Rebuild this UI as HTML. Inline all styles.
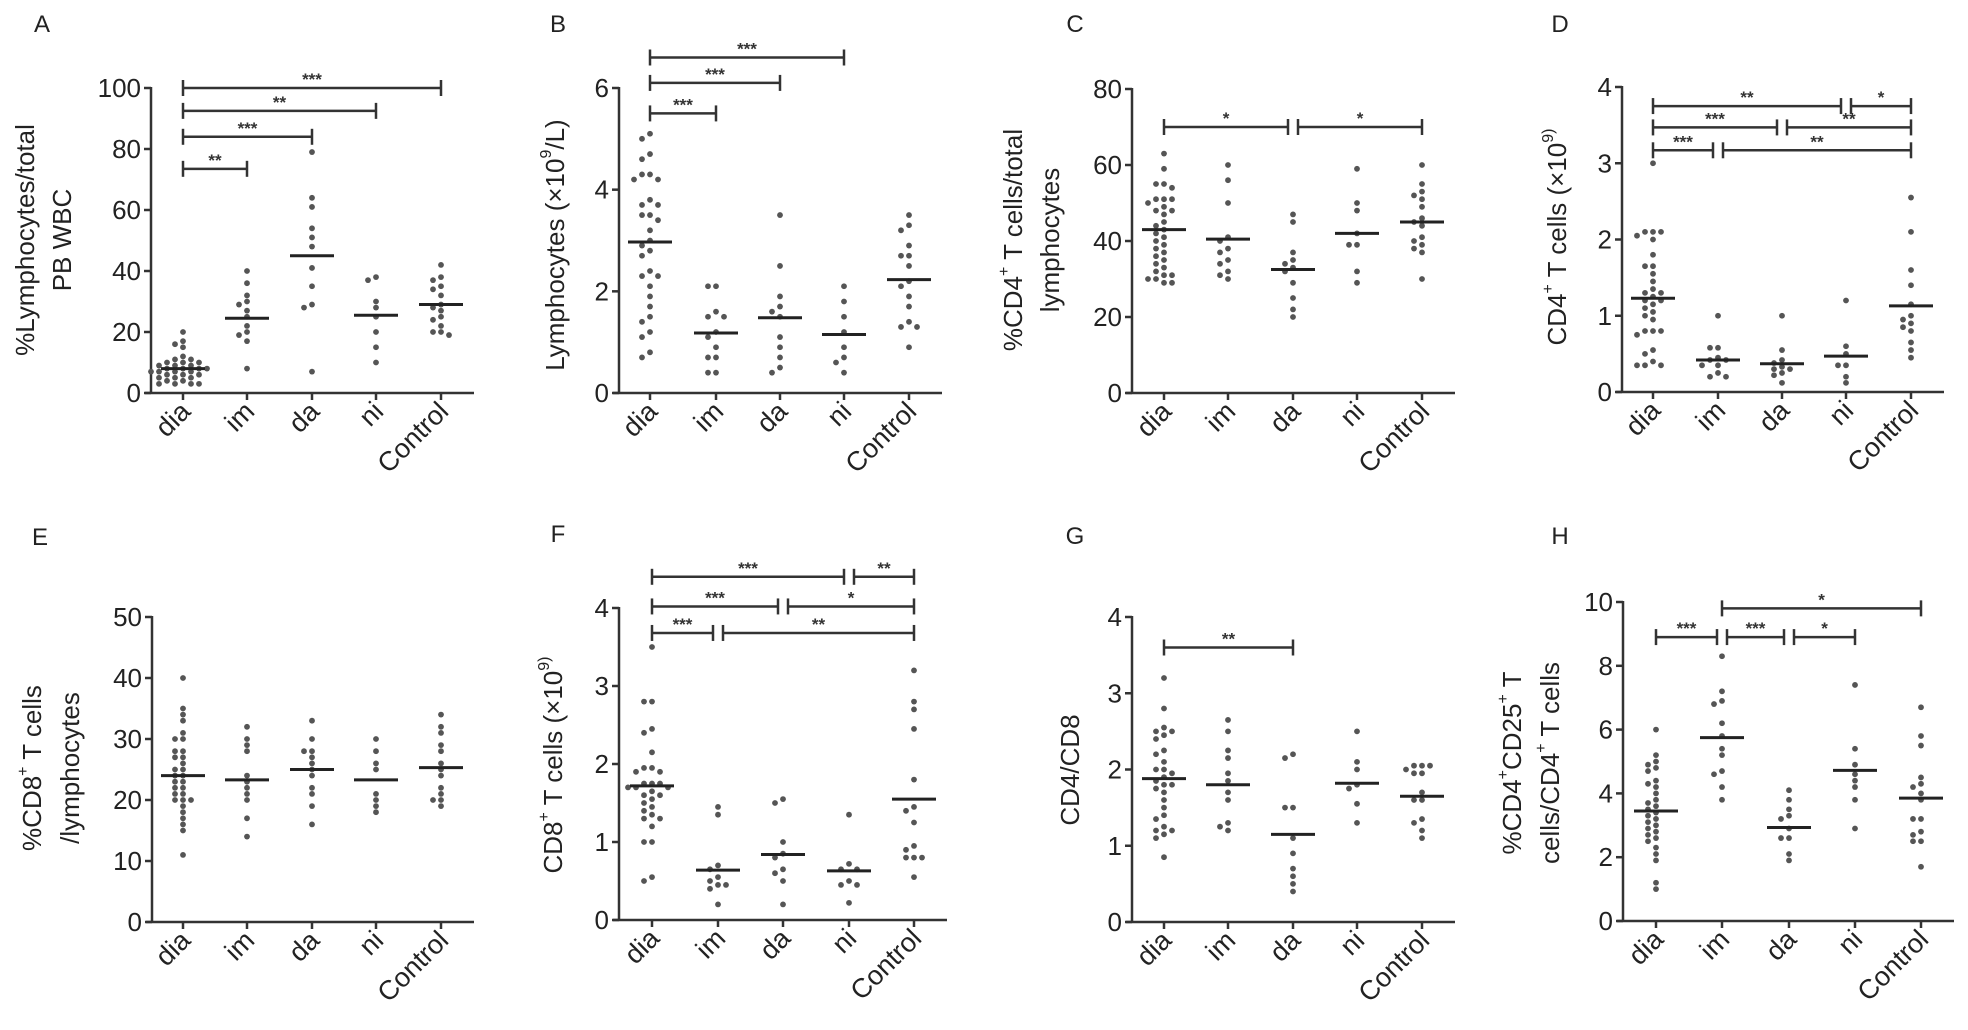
<!DOCTYPE html>
<html><head><meta charset="utf-8"><style>
body{margin:0;background:#fff}
svg{display:block;font-family:"Liberation Sans",Arial,sans-serif}
</style></head><body>
<svg id="fig" width="1968" height="1030" viewBox="0 0 1968 1030" xmlns="http://www.w3.org/2000/svg"></svg>
<script>
const categories = ["dia","im","da","ni","Control"];

const aValues = [[20,17,16,15,12,11,11,10,10,10,9,9,9,8,8,8,8,7,7,7,7,6,6,6,5,5,5,4,4,3,3,3,3],[40,36,32,30,29,27,25,22,20,19,17,8],[79,64,61,54,51,48,41,35,29,28,7],[38,37,30,28,25,20,15,10],[42,38,37,35,34,32,29,28,27,25,24,22,20,19,20]];
const aMedians = [8,24.5,45,25.5,29];
const aTicks = [0,20,40,60,80,100];
const aSig = [[0,4,100,"***"],[0,3,92.5,"**"],[0,2,84,"***"],[0,1,73.5,"**"]];

const bValues = [[5.1,5.0,4.7,4.6,4.3,4.2,4.2,4.3,3.8,3.7,3.7,3.5,3.4,3.5,3.2,3.0,2.9,2.8,2.7,2.4,2.3,2.3,2.1,1.9,1.7,1.5,1.4,1.2,1.1,0.8,0.7],[2.1,2.1,1.6,1.5,1.5,1.2,1.1,0.9,0.7,0.7,0.4,0.4],[3.5,2.5,1.9,1.7,1.6,1.5,1.1,0.9,0.7,0.5,0.4],[2.1,1.8,1.5,1.2,0.9,0.7,0.6,0.4],[3.5,3.3,3.2,2.9,2.7,2.7,2.5,2.2,2.1,1.9,1.7,1.4,1.3,1.3,0.9]];
const bMedians = [2.97,1.18,1.48,1.15,2.23];
const bTicks = [0,2,4,6];
const bSig = [[0,3,6.6,"***"],[0,2,6.1,"***"],[0,1,5.5,"***"]];

const cValues = [[63,59,55,55,54,51,51,51,50,49,48,48,47,45,44,43,42,41,40,39,38,37,36,35,34,33,32,31,31,30,30,29,29],[60,56,50,41,40,38,37,35,34,32,31,30],[47,45,37,35,34,33,32,29,25,22,20],[59,50,48,42,39,39,32,29],[60,55,53,52,51,49,46,45,44,41,40,39,38,37,30]];
const cMedians = [43,40.5,32.5,42,45];
const cTicks = [0,20,40,60,80];
const cSig = [[0,2,70,"*"],[2,4,70,"*"]];

const dValues = [[3.0,2.1,2.1,2.1,2.05,2.0,1.8,1.65,1.65,1.55,1.45,1.35,1.3,1.3,1.25,1.2,1.2,1.15,1.1,1.05,1.0,0.95,0.8,0.8,0.8,0.75,0.55,0.5,0.4,0.35,0.35,0.35],[1.0,0.58,0.58,0.45,0.42,0.42,0.35,0.35,0.25,0.2,0.2],[1.0,0.55,0.42,0.38,0.33,0.3,0.3,0.25,0.22,0.12],[1.2,0.6,0.5,0.35,0.35,0.2,0.12],[2.55,2.1,1.6,1.4,1.15,1.0,0.95,0.9,0.85,0.8,0.65,0.55,0.45]];
const dMedians = [1.23,0.42,0.37,0.47,1.13];
const dTicks = [0,1,2,3,4];
const dSig = [[0,3,3.75,"**"],[3,4,3.75,"*"],[0,2,3.47,"***"],[2,4,3.47,"**"],[0,1,3.17,"***"],[1,4,3.17,"**"]];

const eValues = [[40,35,34,33,31,30,30,28,28,27,27,26,25,25,24,24,23,23,22,22,21,21,20,20,20,19,18,17,16,15,11],[32,30,29,28,24,23,22,21,20,17,14],[33,30,28,28,27,26,25,24,22,21,19,16],[30,28,26,25,21,20,19,18],[34,32,31,29,28,26,25,24,22,21,20,20,19]];
const eMedians = [24,23.3,25,23.3,25.3];
const eTicks = [0,10,20,30,40,50];
const eSig = [];

const fValues = [[3.5,2.8,2.8,2.45,2.4,2.15,1.95,1.95,1.9,1.9,1.75,1.75,1.75,1.7,1.7,1.7,1.65,1.6,1.6,1.55,1.5,1.45,1.4,1.35,1.3,1.3,1.2,1.0,1.0,0.55,0.5],[1.45,1.35,0.7,0.65,0.55,0.5,0.45,0.45,0.4,0.2],[1.55,1.5,1.0,0.85,0.8,0.65,0.6,0.5,0.2],[1.35,0.72,0.65,0.65,0.5,0.45,0.45,0.22],[3.2,2.8,2.7,2.45,1.8,1.45,1.4,1.25,0.95,0.9,0.8,0.8,0.8,0.55]];
const fMedians = [1.72,0.64,0.84,0.63,1.55];
const fTicks = [0,1,2,3,4];
const fSig = [[0,3,4.4,"***"],[3,4,4.4,"**"],[0,2,4.02,"***"],[2,4,4.02,"*"],[0,1,3.68,"***"],[1,4,3.68,"**"]];

const gValues = [[3.2,2.8,2.55,2.5,2.5,2.45,2.4,2.25,2.2,2.1,2.0,2.0,1.95,1.9,1.85,1.8,1.8,1.75,1.7,1.6,1.5,1.4,1.35,1.25,1.2,1.2,1.15,1.1,0.85],[2.65,2.5,2.25,2.15,1.95,1.85,1.7,1.6,1.3,1.25,1.2],[2.2,2.15,1.5,1.5,1.1,0.9,0.7,0.6,0.5,0.4],[2.5,2.1,2.0,1.8,1.75,1.55,1.3],[2.05,2.05,2.05,2.0,1.95,1.95,1.7,1.6,1.6,1.35,1.3,1.2,1.1]];
const gMedians = [1.88,1.8,1.15,1.82,1.65];
const gTicks = [0,1,2,3,4];
const gSig = [[0,2,3.6,"**"]];

const hValues = [[6.0,5.2,5.0,4.9,4.8,4.7,4.4,4.3,4.2,4.0,3.8,3.7,3.6,3.5,3.4,3.3,3.2,3.1,3.0,2.9,2.8,2.7,2.6,2.5,2.3,2.1,1.9,1.2,1.0],[8.3,7.2,6.9,6.8,6.2,5.8,5.4,5.2,4.7,4.6,4.2,3.8],[4.1,3.8,3.5,3.3,3.2,2.9,2.6,2.6,2.1,1.9],[7.4,5.4,4.9,4.6,4.4,4.2,3.8,2.9],[6.7,5.8,5.5,4.5,4.3,4.2,4.0,3.8,3.2,3.2,2.8,2.7,2.5,2.5,1.7]];
const hMedians = [3.45,5.75,2.93,4.72,3.85];
const hTicks = [0,2,4,6,8,10];
const hSig = [[1,4,9.8,"*"],[0,1,8.9,"***"],[1,2,8.9,"***"],[2,3,8.9,"*"]];

const NS="http://www.w3.org/2000/svg";
const svg=document.getElementById("fig");
function mk(tag,attrs,parent){const e=document.createElementNS(NS,tag);for(const k in attrs)e.setAttribute(k,attrs[k]);(parent||svg).appendChild(e);return e;}

const panels=[
 {id:"a",letter:"A",lx:42,ly:32,ax:151,y0:393,yt:88,max:100,cx:[183,247,312,376,441],v:aValues,m:aMedians,t:aTicks,s:aSig,lab:["%Lymphocytes/total","PB WBC"],labx:[25,62],laby:240},
 {id:"b",letter:"B",lx:558,ly:32,ax:619,y0:393,yt:88,max:6,cx:[650,716,780,844,909],v:bValues,m:bMedians,t:bTicks,s:bSig,lab:["Lymphocytes (×10^9/L)"],labx:[555],laby:245},
 {id:"c",letter:"C",lx:1075,ly:32,ax:1132,y0:393,yt:89,max:80,cx:[1164,1228,1293,1357,1422],v:cValues,m:cMedians,t:cTicks,s:cSig,lab:["%CD4^+ T cells/total","lymphocytes"],labx:[1013,1050],laby:240},
 {id:"d",letter:"D",lx:1560,ly:32,ax:1622,y0:392,yt:87,max:4,cx:[1653,1718,1782,1846,1911],v:dValues,m:dMedians,t:dTicks,s:dSig,lab:["CD4^+ T cells (×10^9)"],labx:[1557],laby:237},
 {id:"e",letter:"E",lx:40,ly:545,ax:152,y0:922,yt:617,max:50,cx:[183,247,312,376,441],v:eValues,m:eMedians,t:eTicks,s:eSig,lab:["%CD8^+ T cells","/lymphocytes"],labx:[32,70],laby:768},
 {id:"f",letter:"F",lx:558,ly:542,ax:619,y0:920,yt:608,max:4,cx:[652,718,783,849,914],v:fValues,m:fMedians,t:fTicks,s:fSig,lab:["CD8^+ T cells (×10^9)"],labx:[553],laby:765},
 {id:"g",letter:"G",lx:1075,ly:544,ax:1132,y0:922,yt:617,max:4,cx:[1164,1228,1293,1357,1422],v:gValues,m:gMedians,t:gTicks,s:gSig,lab:["CD4/CD8"],labx:[1070],laby:770},
 {id:"h",letter:"H",lx:1560,ly:544,ax:1623,y0:921,yt:602,max:10,cx:[1656,1722,1789,1855,1921],v:hValues,m:hMedians,t:hTicks,s:hSig,lab:["%CD4^+CD25^+ T","cells/CD4^+ T cells"],labx:[1512,1550],laby:763}
];

function addRich(textEl,str){
 const parts=str.split(/(\^[^\s/]+?)(?=[\s/C(]|$)/);
 parts.forEach(p=>{if(!p)return;
  if(p[0]==="^"){const t=mk("tspan",{"baseline-shift":"super","font-size":"16"},textEl);t.textContent=p.slice(1);}
  else{const t=mk("tspan",{},textEl);t.textContent=p;}});
}

panels.forEach(P=>{
 const g=mk("g",{});
 
 
 const y=v=>P.y0-(v/P.max)*(P.y0-P.yt);
 const lt=mk("text",{x:P.lx,y:P.ly,"font-size":"24","text-anchor":"middle",fill:"#222"},g);
 
 
 lt.textContent=P.letter;
 const xEnd=P.cx[4]+33;
 const yax=mk("line",{x1:P.ax,y1:P.yt-1,x2:P.ax,y2:P.y0,stroke:"#333","stroke-width":"2.5"},g);
 
 
 const xax=mk("line",{x1:P.ax-6,y1:P.y0,x2:xEnd,y2:P.y0,stroke:"#333","stroke-width":"2.5"},g);
 
 
 P.t.forEach(t=>{
  mk("line",{x1:P.ax-7,y1:y(t),x2:P.ax,y2:y(t),stroke:"#333","stroke-width":"2.5"},g);
  const tl=mk("text",{x:P.ax-10,y:y(t)+9,"font-size":"26","text-anchor":"end",fill:"#222"},g);
  
  
  tl.textContent=t;
 });
 categories.forEach((c,i)=>{
  const x=P.cx[i];
  mk("line",{x1:x,y1:P.y0,x2:x,y2:P.y0+7,stroke:"#333","stroke-width":"2.5"},g);
  const cl=mk("text",{x:x+9,y:P.y0+20,"font-size":"27","text-anchor":"end",fill:"#222",transform:`rotate(-45 ${x+9} ${P.y0+20})`},g);
  
  
  cl.textContent=c;
  const placed=[];
  const vals=P.v[i].slice().sort((a,b)=>b-a);
  vals.forEach(v=>{
   const py=y(v);const offs=[0,-8,8,-16,16,-24,24,-32,32];
   let ox=0;
   for(const o of offs){if(!placed.some(p=>Math.abs(p[0]-o)<7&&Math.abs(p[1]-py)<6)){ox=o;break;}}
   placed.push([ox,py]);
   const d=mk("circle",{cx:x+ox,cy:py,r:"2.9",fill:"#555"},g);
   
   
  });
  const md=mk("line",{x1:x-22,y1:y(P.m[i]),x2:x+22,y2:y(P.m[i]),stroke:"#222","stroke-width":"3"},g);
  
  
 });
 P.s.forEach(s=>{
  const [a,b,lv,lab]=s;
  const startShared=P.s.some(o=>o!==s&&o[2]===lv&&o[1]===a);
  const endShared=P.s.some(o=>o!==s&&o[2]===lv&&o[0]===b);
  const x1=P.cx[a]+(startShared?5:0), x2=P.cx[b]-(endShared?5:0), yy=y(lv);
  const sg=mk("g",{},g);
  
  
  mk("line",{x1:x1,y1:yy,x2:x2,y2:yy,stroke:"#333","stroke-width":"2.5"},sg);
  mk("line",{x1:x1,y1:yy-8,x2:x1,y2:yy+8,stroke:"#333","stroke-width":"2.5"},sg);
  mk("line",{x1:x2,y1:yy-8,x2:x2,y2:yy+8,stroke:"#333","stroke-width":"2.5"},sg);
  const st=mk("text",{x:(x1+x2)/2,y:yy-3,"font-size":"17","font-weight":"bold","text-anchor":"middle",fill:"#333"},sg);
  st.textContent=lab;
 });
 P.lab.forEach((l,k)=>{
  const x=P.labx[k];
  const tl=mk("text",{x:x,y:P.laby,"font-size":"26","text-anchor":"middle","dominant-baseline":"central",fill:"#222",transform:`rotate(-90 ${x} ${P.laby})`},g);
  
  
  addRich(tl,l);
 });
});
</script>
</body></html>
